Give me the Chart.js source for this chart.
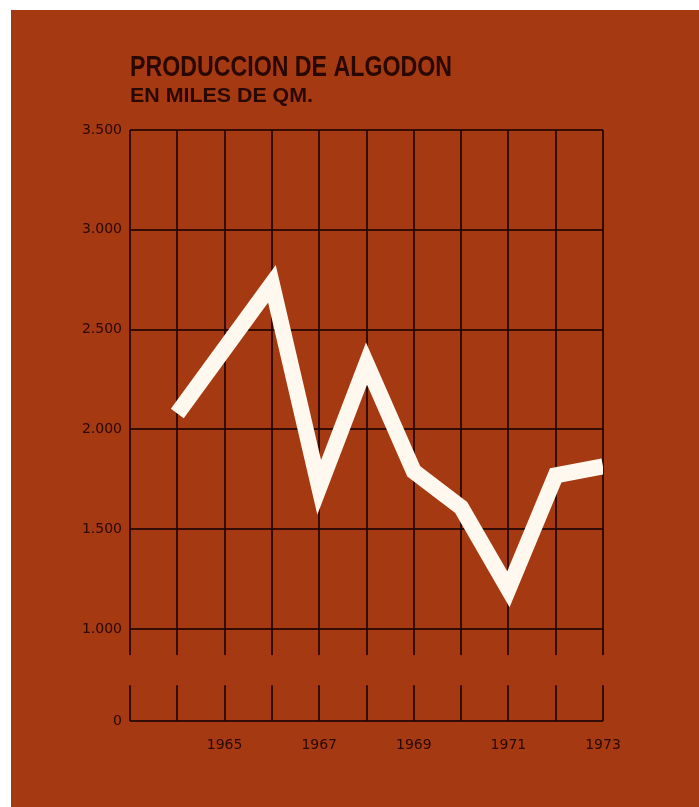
<!DOCTYPE html>
<html>
<head>
<meta charset="utf-8">
<script src="https://cdn.jsdelivr.net/npm/chart.js@4"></script>
<style>
  html, body { margin: 0; padding: 0; background: #ffffff; }
  #wrap { position: absolute; left: 0; top: 0; width: 699px; height: 807px; }
</style>
</head>
<body>
<div id="wrap"><canvas id="c" width="699" height="807"></canvas></div>
<script>
// ---- data ----
const titleText = 'PRODUCCION DE ALGODON';
const subtitleText = 'EN MILES DE QM.';
const years = [1964, 1966, 1967, 1968, 1969, 1970, 1971, 1972, 1973];
const production = [2080, 2730, 1710, 2330, 1790, 1610, 1200, 1770, 1815];
const xLabelYears = [1965, 1967, 1969, 1971, 1973];
const yTickValues = [0, 1000, 1500, 2000, 2500, 3000, 3500];
const yTickLabels = ['0', '1.000', '1.500', '2.000', '2.500', '3.000', '3.500'];

// ---- style / layout constants ----
const BG = '#a53912';
const INK = '#2a0802';
const GRID = 'rgba(38,6,0,0.88)';
const LINE = '#fff8ee';
const AXIS_FLOOR = 540;      // axis position where the "0" is drawn (broken axis)
const BREAK_TOP = 870;       // gap in vertical lines (axis units)
const BREAK_BOTTOM = 719;

function toAxis(v) { return v === 0 ? AXIS_FLOOR : v; }

const bgPlugin = {
  id: 'bg',
  beforeDraw(chart) {
    const ctx = chart.ctx;
    ctx.save();
    ctx.fillStyle = '#ffffff';
    ctx.fillRect(0, 0, chart.width, chart.height);
    ctx.fillStyle = BG;
    ctx.fillRect(11, 10, chart.width - 11, chart.height - 10);
    ctx.restore();
  }
};

const breakPlugin = {
  id: 'axisBreak',
  beforeDatasetsDraw(chart) {
    const ctx = chart.ctx, a = chart.chartArea, y = chart.scales.y;
    const top = y.getPixelForValue(BREAK_TOP);
    const bot = y.getPixelForValue(BREAK_BOTTOM);
    ctx.save();
    ctx.fillStyle = BG;
    ctx.fillRect(a.left - 3, top, a.right - a.left + 6, bot - top);
    ctx.restore();
  }
};

const titlePlugin = {
  id: 'titles',
  afterDraw(chart) {
    const ctx = chart.ctx, left = chart.chartArea.left;
    function draw(text, font, baseline, width) {
      ctx.save();
      ctx.font = font;
      ctx.fillStyle = INK;
      ctx.textBaseline = 'alphabetic';
      const w = ctx.measureText(text).width;
      ctx.translate(left, baseline);
      ctx.scale(width / w, 1);
      ctx.fillText(text, 0, 0);
      ctx.restore();
    }
    draw(titleText, 'bold 30px "Liberation Sans"', 76, 322);
    draw(subtitleText, 'bold 21px "Liberation Sans"', 102, 183);
  }
};

new Chart(document.getElementById('c'), {
  type: 'line',
  data: {
    datasets: [{
      data: years.map((yr, i) => ({ x: yr, y: production[i] })),
      borderColor: LINE,
      borderWidth: 16,
      borderJoinStyle: 'miter',
      borderCapStyle: 'butt',
      tension: 0,
      pointRadius: 0,
      fill: false
    }]
  },
  options: {
    responsive: false,
    animation: false,
    devicePixelRatio: 1,
    layout: { padding: { top: 130, right: 96, bottom: 0, left: 0 } },
    plugins: { legend: { display: false }, tooltip: { enabled: false }, title: { display: false } },
    scales: {
      x: {
        type: 'linear',
        min: 1963,
        max: 1973,
        afterFit(s) { s.height = 86; },
        border: { display: false },
        grid: { color: GRID, lineWidth: 2, drawTicks: false },
        ticks: {
          stepSize: 1,
          autoSkip: false,
          maxRotation: 0,
          padding: 16,
          color: INK,
          font: { family: '"DejaVu Sans"', size: 14 },
          callback: (v) => xLabelYears.includes(v) ? String(v) : ''
        }
      },
      y: {
        type: 'linear',
        min: AXIS_FLOOR,
        max: 3500,
        afterFit(s) { s.width = 130; },
        afterBuildTicks(s) { s.ticks = yTickValues.map(v => ({ value: toAxis(v) })); },
        border: { display: false },
        grid: { color: GRID, lineWidth: 2, drawTicks: false },
        ticks: {
          padding: 8,
          color: INK,
          font: { family: '"DejaVu Sans"', size: 14 },
          callback: (v) => {
            const i = yTickValues.findIndex(t => toAxis(t) === v);
            return i >= 0 ? yTickLabels[i] : '';
          }
        }
      }
    }
  },
  plugins: [bgPlugin, breakPlugin, titlePlugin]
});
</script>
</body>
</html>
